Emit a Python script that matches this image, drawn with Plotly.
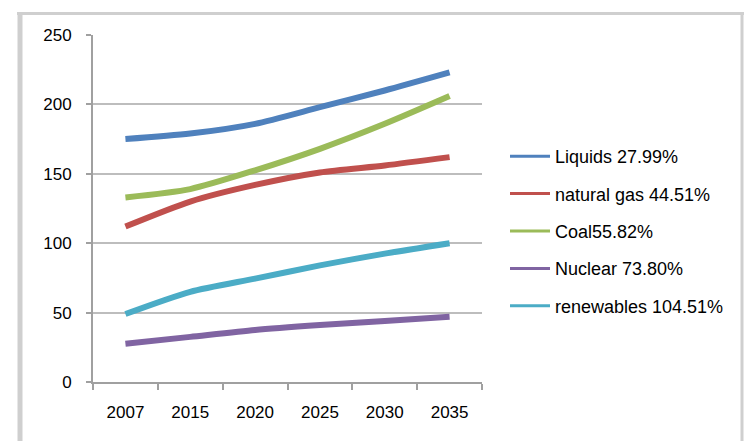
import plotly.graph_objects as go

years = ["2007", "2015", "2020", "2025", "2030", "2035"]
liquids = [175, 179, 186, 198, 210, 223]
natural_gas = [112, 130, 142, 151, 156, 162]
coal = [133, 139, 152.5, 168, 186, 206]
nuclear = [27.5, 32.5, 37.5, 41, 44, 47]
renewables = [49, 65, 74.5, 84, 92.5, 100]

names = ["Liquids 27.99%", "natural gas 44.51%", "Coal55.82%", "Nuclear 73.80%", "renewables 104.51%"]
series = [liquids, natural_gas, coal, nuclear, renewables]
colors = ["#4F81BD", "#C0504D", "#9BBB59", "#8064A2", "#4BACC6"]

W, H = 744, 441
L, R, T, B = 93, 482, 35, 382

fig = go.Figure()
for name, vals, col in zip(names, series, colors):
    fig.add_trace(go.Scatter(x=years, y=vals, mode="lines", name=name,
                             line=dict(color=col, width=6, shape="spline", smoothing=0.7),
                             showlegend=False))
for i, (name, col) in enumerate(zip(names, colors)):
    fig.add_trace(go.Scatter(x=[None], y=[None], mode="lines", name=name,
                             legendgroup=str(i),
                             line=dict(color=col, width=3)))

def px(x):
    return (x - L) / (R - L)

def py(y):
    return (B - y) / (B - T)

# outer chart border (spreadsheet chart frame)
border = "#cfcfcf"
fig.add_shape(type="line", xref="paper", yref="paper", x0=px(17), x1=px(744), y0=py(13.5), y1=py(13.5),
              line=dict(color=border, width=3))
fig.add_shape(type="line", xref="paper", yref="paper", x0=px(20), x1=px(20), y0=py(12), y1=py(441),
              line=dict(color=border, width=5))
fig.add_shape(type="line", xref="paper", yref="paper", x0=px(742), x1=px(742), y0=py(12), y1=py(441),
              line=dict(color=border, width=3))

fig.update_layout(
    width=W, height=H,
    margin=dict(l=L, r=W - R, t=T, b=H - B),
    paper_bgcolor="white", plot_bgcolor="white",
    font=dict(family="Liberation Sans, Arial, sans-serif", size=17, color="#000000"),
    legend=dict(x=px(505), xanchor="left", y=py(231), yanchor="middle",
                tracegroupgap=11, font=dict(size=18), itemwidth=40,
                bgcolor="rgba(0,0,0,0)"),
)
fig.update_xaxes(type="category", range=[-0.5, 5.5], tickson="boundaries",
                 ticks="outside", ticklen=6, tickcolor="#a0a0a0", tickwidth=2,
                 showline=True, linecolor="#a0a0a0", linewidth=2, showgrid=False,
                 tickfont=dict(size=17), ticklabelstandoff=14)
fig.update_yaxes(range=[0, 250], dtick=50, ticks="outside", ticklen=5,
                 tickcolor="#a0a0a0", tickwidth=2, showline=True, linecolor="#a0a0a0",
                 linewidth=2, showgrid=True, gridcolor="#bdbdbd", gridwidth=2,
                 zeroline=False, tickfont=dict(size=17), ticklabelstandoff=11)

fig.write_html("out.html", config={"displayModeBar": False},
               post_script="document.body.style.margin='0';")
